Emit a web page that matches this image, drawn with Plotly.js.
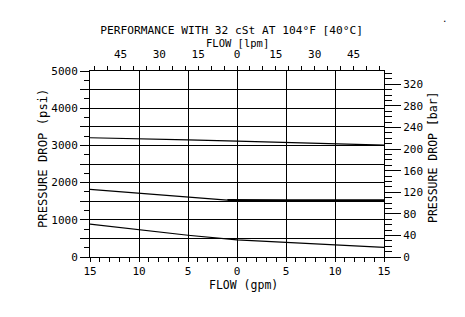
<!DOCTYPE html>
<html>
<head>
<meta charset="utf-8">
<script src="https://cdn.plot.ly/plotly-3.0.1.min.js"></script>
<style>html,body{margin:0;padding:0;background:#fff;}#chart{width:465px;height:317px;}</style>
</head>
<body>
<div id="chart"></div>
<script>
// ---- data ----
const flowHigh = [-15, -10, -5, 0, 5, 10, 15];
const psiHigh  = [3205, 3185, 3150, 3115, 3075, 3035, 3008];

const flowMid  = [-15, -10, -5, -3, -1, 0, 5, 10, 15];
const psiMid   = [1820, 1715, 1620, 1575, 1530, 1528, 1528, 1528, 1528];

const flowLow  = [-15, -10, -5, 0, 5, 10, 15];
const psiLow   = [884, 735, 585, 458, 390, 328, 257];

const bottomTickVals = [-15, -10, -5, 0, 5, 10, 15];
const bottomTickText = ['15', '10', '5', '0', '5', '10', '15'];
const leftTickLabels = ['0', '1000', '2000', '3000', '4000', '5000'];
const rightTickLabels = ['0', '40', '80', '120', '160', '200', '240', '280', '320'];
const topTickLabels = ['45', '30', '15', '0', '15', '30', '45'];

const GPM_TO_LPM = 3.78541;
const PSI_TO_BAR = 1 / 14.5038;

const FONT = 'DejaVu Sans Mono, Liberation Mono, monospace';
const K = '#000000';

// ---- tick helpers ----
function range(a, b, s) { const r = []; for (let v = a; v <= b + 1e-9; v += s) r.push(+v.toFixed(6)); return r; }

const leftVals = range(0, 5000, 500);
const leftText = leftVals.map(v => (v % 1000 === 0 ? leftTickLabels[v / 1000] : ''));
const leftMinor = range(250, 4750, 500);

const rightVals = range(0, 320, 40);
const rightMinor = range(0, 340, 10).filter(v => v % 40 !== 0);

const topVals = range(-55, 55, 5);
const topText = topVals.map(v => {
  if (v % 15 !== 0) return '';
  const i = (v + 45) / 15;
  return (i >= 0 && i < topTickLabels.length) ? topTickLabels[i] : '';
});

const bottomMinor = range(-15, 15, 1).filter(v => v % 5 !== 0);

// split point of the middle curve: sloped part, then flat part
const MID_FLAT_FROM = 4;

const line = {color: K, width: 1.2};
const traces = [
  {x: flowHigh, y: psiHigh, mode: 'lines', line: line, hoverinfo: 'skip', showlegend: false},
  {x: flowMid.slice(0, MID_FLAT_FROM + 1), y: psiMid.slice(0, MID_FLAT_FROM + 1), mode: 'lines', line: line, hoverinfo: 'skip', showlegend: false},
  {x: flowMid.slice(MID_FLAT_FROM), y: psiMid.slice(MID_FLAT_FROM), mode: 'lines', line: {color: K, width: 2}, hoverinfo: 'skip', showlegend: false},
  {x: flowLow, y: psiLow, mode: 'lines', line: line, hoverinfo: 'skip', showlegend: false},
  // same curve in lpm / bar so the secondary axes are bound to data (invisible)
  {x: flowHigh.map(v => v * GPM_TO_LPM), y: psiHigh.map(v => v * PSI_TO_BAR), xaxis: 'x2', yaxis: 'y2',
   mode: 'lines', line: {color: 'rgba(0,0,0,0)', width: 0}, hoverinfo: 'skip', showlegend: false}
];

const tickfont = {family: FONT, size: 11, color: K};

const layout = {
  width: 465, height: 317,
  margin: {l: 90, r: 81, t: 71, b: 60, pad: 0},
  paper_bgcolor: '#fff', plot_bgcolor: '#fff',
  font: {family: FONT, color: K},
  showlegend: false,
  title: {text: 'PERFORMANCE WITH 32 cSt AT 104°F [40°C]', font: {family: FONT, size: 11.2, color: K},
          x: 231.7 / 465, xanchor: 'center', xref: 'container', y: 1 - 29.8 / 317, yanchor: 'middle', yref: 'container'},
  xaxis: {
    range: [-15, 15], tickmode: 'array', tickvals: bottomTickVals, ticktext: bottomTickText,
    ticks: 'outside', ticklen: 4, tickwidth: 1, tickcolor: K, tickfont: tickfont,
    showgrid: true, gridcolor: K, gridwidth: 1, zeroline: false,
    showline: true, linecolor: K, linewidth: 1,
    minor: {tickmode: 'array', tickvals: bottomMinor, ticks: 'outside', ticklen: 4, tickwidth: 1, tickcolor: K, showgrid: false},
    fixedrange: true
  },
  xaxis2: {
    overlaying: 'x', side: 'top', anchor: 'y2',
    range: [-15 * GPM_TO_LPM, 15 * GPM_TO_LPM], tickmode: 'array', tickvals: topVals, ticktext: topText,
    ticks: 'outside', ticklen: 4, tickwidth: 1, tickcolor: K, tickfont: tickfont, ticklabelstandoff: 4,
    showgrid: false, zeroline: false, showline: true, linecolor: K, linewidth: 1, fixedrange: true
  },
  yaxis: {
    range: [0, 5000], tickmode: 'array', tickvals: leftVals, ticktext: leftText,
    ticks: 'outside', ticklen: 9, tickwidth: 1, tickcolor: K, tickfont: tickfont,
    showgrid: true, gridcolor: K, gridwidth: 1, zeroline: false,
    showline: true, linecolor: K, linewidth: 1,
    minor: {tickmode: 'array', tickvals: leftMinor, ticks: 'outside', ticklen: 5, tickwidth: 1, tickcolor: K, showgrid: false},
    fixedrange: true
  },
  yaxis2: {
    overlaying: 'y', side: 'right', anchor: 'x2',
    range: [0, 5000 * PSI_TO_BAR], tickmode: 'array', tickvals: rightVals, ticktext: rightTickLabels,
    ticks: 'outside', ticklen: 16, tickwidth: 1, tickcolor: K, tickfont: tickfont,
    showgrid: false, zeroline: false, showline: true, linecolor: K, linewidth: 1,
    minor: {tickmode: 'array', tickvals: rightMinor, ticks: 'outside', ticklen: 7, tickwidth: 1, tickcolor: K, showgrid: false},
    fixedrange: true
  },
  annotations: [
    {text: 'FLOW [lpm]', xref: 'paper', yref: 'paper', x: (237.5 - 90) / 294, y: (257 - 43.2) / 186,
     xanchor: 'center', yanchor: 'middle', showarrow: false, font: {family: FONT, size: 10.5, color: K}},
    {text: 'FLOW (gpm)', xref: 'paper', yref: 'paper', x: (243 - 90) / 294, y: (257 - 284.5) / 186,
     xanchor: 'center', yanchor: 'middle', showarrow: false, font: {family: FONT, size: 11.5, color: K}},
    {text: 'PRESSURE DROP (psi)', xref: 'paper', yref: 'paper', x: (43 - 90) / 294, y: (257 - 159) / 186,
     xanchor: 'center', yanchor: 'middle', textangle: -90, showarrow: false, font: {family: FONT, size: 12.2, color: K}},
    {text: 'PRESSURE DROP [bar]', xref: 'paper', yref: 'paper', x: (433 - 90) / 294, y: (257 - 157) / 186,
     xanchor: 'center', yanchor: 'middle', textangle: -90, showarrow: false, font: {family: FONT, size: 11.5, color: K}},
    {text: '.', xref: 'paper', yref: 'paper', x: (445 - 90) / 294, y: (257 - 19) / 186,
     xanchor: 'center', yanchor: 'middle', showarrow: false, font: {family: FONT, size: 9, color: K}}
  ]
};

Plotly.newPlot('chart', traces, layout, {staticPlot: true, displayModeBar: false});
</script>
</body>
</html>
